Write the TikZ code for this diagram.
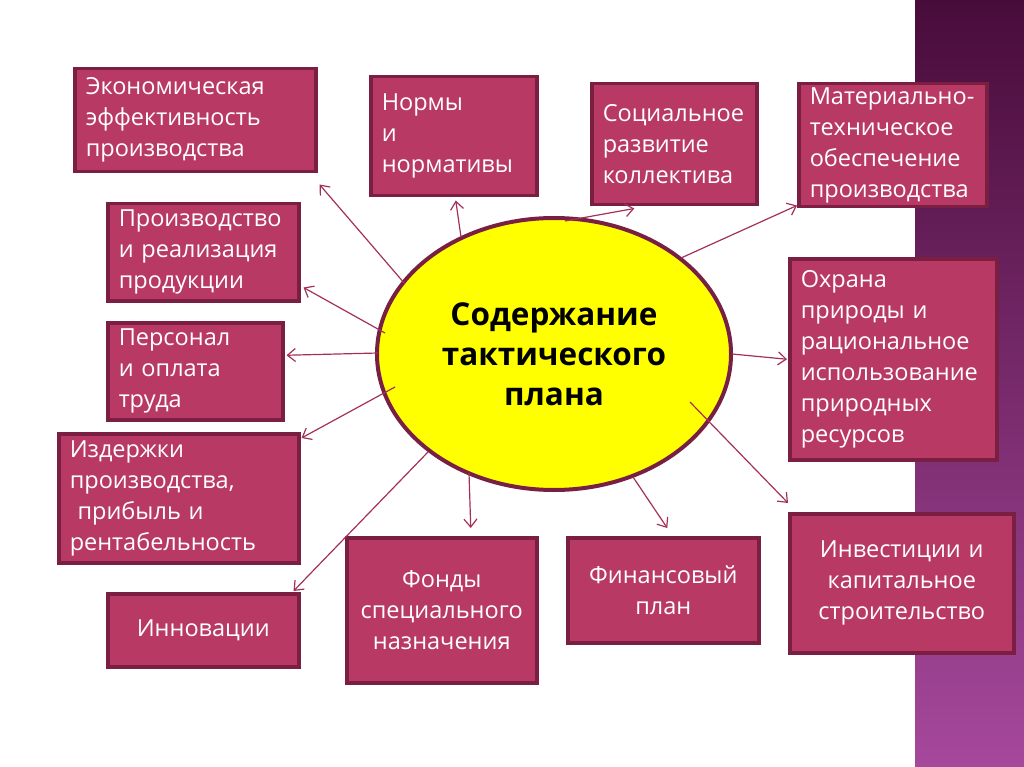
\documentclass[tikz,border=0pt]{standalone}
\usepackage{fontspec}
\setmainfont{Open Sans}
\usepackage{tikz}
\usetikzlibrary{shapes.geometric,arrows.meta}
\definecolor{boxfill}{RGB}{184,58,100}
\definecolor{boxline}{RGB}{122,30,66}
\definecolor{linkcol}{RGB}{163,48,90}
\definecolor{ringcol}{RGB}{120,32,68}
\definecolor{stripetop}{RGB}{72,12,58}
\definecolor{stripebot}{RGB}{166,72,156}
\tikzstyle{tbox} = [draw=boxline, fill=boxfill, line width=3.5pt, rectangle,
    text=white, anchor=north west, inner xsep=11pt, inner ysep=0pt,
    font=\fontsize{23.5}{31}\selectfont]
\tikzstyle{plan} = [draw=ringcol, fill={rgb,255:red,255;green,255;blue,0}, line width=4pt, ellipse,
    inner sep=0pt, minimum width=354pt, minimum height=272pt, align=center,
    font=\bfseries\fontsize{31.5}{40}\selectfont]
\tikzstyle{link} = [draw=linkcol, line width=1.2pt,
    -{Straight Barb[length=8pt,width=13pt]}]

\begin{document}
\begin{tikzpicture}[x=1pt,y=-1pt]
                \useasboundingbox (0,0) rectangle (1024,767);
                \shade[top color=stripetop, bottom color=stripebot] (915,0) rectangle (1024,767);
                % centre
                \node [plan] (plan) at (554,354) {Содержание\\тактического\\плана};
                % upper row
                \node [tbox, text width=219pt, minimum height=103pt, align=left] (econ) at (73,67)
                    {Экономическая\\эффективность\\производства};
                \node [tbox, text width=144pt, minimum height=119pt, align=left] (norm) at (369,75)
                    {Нормы\\и\\нормативы};
                \node [tbox, text width=143pt, minimum height=121pt, align=left] (soc) at (590,82)
                    {Социальное\\развитие\\коллектива};
                \node [tbox, text width=166pt, minimum height=123pt, align=left] (mat) at (797,82)
                    {Материально-\\техническое\\обеспечение\\производства};
                % left column
                \node [tbox, text width=169pt, minimum height=97pt, align=left] (prod) at (106,202)
                    {Производство\\и реализация\\продукции};
                \node [tbox, text width=153pt, minimum height=97pt, align=left] (pers) at (106,321)
                    {Персонал\\и оплата\\труда};
                \node [tbox, text width=218pt, minimum height=129pt, align=left] (cost) at (57,432)
                    {Издержки\\производства,\\\ прибыль и\\рентабельность};
                \node [tbox, text width=169pt, minimum height=73pt, align=center] (innov) at (106,592)
                    {Инновации};
                % lower row
                \node [tbox, text width=168pt, minimum height=145pt, align=center] (fund) at (345,536)
                    {Фонды\\специального\\назначения};
                \node [tbox, text width=169pt, minimum height=105pt, align=center] (fin) at (566,536)
                    {Финансовый\\план};
                % right column
                \node [tbox, text width=185pt, minimum height=201pt, align=left] (nat) at (788,257)
                    {Охрана\\природы и\\рациональное\\использование\\природных\\ресурсов};
                \node [tbox, text width=202pt, minimum height=139pt, align=center] (inv) at (788,512)
                    {Инвестиции и\\капитальное\\строительство};
                % arrows
                \draw [link] ([shift={(-149,-70)}]plan.center) -- ([shift={(2,11)}]econ.south east);
                \draw [link] ([shift={(-93,-117)}]plan.center) -- ([shift={(2,3)}]norm.south);
                \draw [link] ([shift={(11,-133)}]plan.center) -- ([shift={(-40,2)}]soc.south);
                \draw [link] ([shift={(127,-96)}]plan.center) -- ([shift={(0,-3)}]mat.south west);
                \draw [link] ([shift={(-169,-21)}]plan.center) -- ([shift={(3,-15)}]prod.south east);
                \draw [link] ([shift={(-176,-1)}]plan.center) -- ([shift={(2,-16)}]pers.east);
                \draw [link] ([shift={(-159,33)}]plan.center) -- ([shift={(1,6)}]cost.north east);
                \draw [link] ([shift={(-126,98)}]plan.center) -- ([shift={(-7,-1)}]innov.north east);
                \draw [link] ([shift={(-85,119)}]plan.center) -- ([shift={(29,-8)}]fund.north);
                \draw [link] ([shift={(79,123)}]plan.center) -- ([shift={(4,-8)}]fin.north);
                \draw [link] ([shift={(178,0)}]plan.center) -- ([shift={(-1,0)}]nat.west);
                \draw [link] ([shift={(136,48)}]plan.center) -- ([shift={(0,-9)}]inv.north west);
            \end{tikzpicture}
\end{document}
